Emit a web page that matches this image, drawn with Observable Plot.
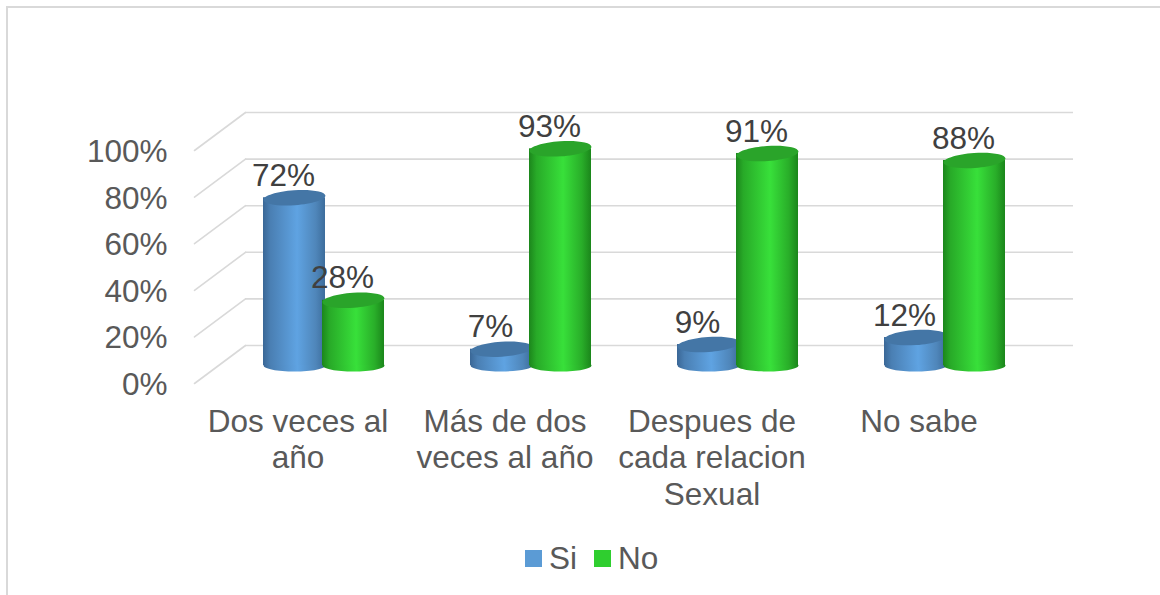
<!DOCTYPE html>
<html>
<head>
<meta charset="utf-8">
<script src="https://cdn.jsdelivr.net/npm/d3@7"></script>
<script src="https://cdn.jsdelivr.net/npm/@observablehq/plot@0.6"></script>
<style>
  html, body { margin: 0; padding: 0; background: #fff; overflow: hidden; }
  body { width: 1160px; height: 595px; position: relative; font-family: "Liberation Sans", Arial, sans-serif; }
  #border { position: absolute; left: 6px; top: 6px; right: 0; bottom: 0; border-left: 2px solid #d9d9d9; border-top: 2px solid #d9d9d9; pointer-events: none; }
  #chart svg { display: block; }
  #legend { position: relative; height: 60px; color: #595959; font-size: 31.5px; }
  #legend .sw { position: absolute; top: 15px; width: 17px; height: 17px; }
  #legend .lb { position: absolute; top: 6px; line-height: 34px; }
</style>
</head>
<body>
<div id="border"></div>
<div id="chart"></div>
<div id="legend"></div>
<script>
const categories = ["Dos veces al\naño", "Más de dos\nveces al año", "Despues de\ncada relacion\nSexual", "No sabe"];
const seriesNames = ["Si", "No"];
const si = [72, 7, 9, 12];
const no = [28, 93, 91, 88];
const yTicks = [0, 20, 40, 60, 80, 100];

const width = 1160, height = 535;
const rowsSi = categories.map((c, i) => ({cat: c, v: si[i]}));
const rowsNo = categories.map((c, i) => ({cat: c, v: no[i]}));

// flattened ellipses used for the cylinder caps
const ellipse = (rx, ry) => ({
  draw(ctx) {
    const k = 0.5523;
    ctx.moveTo(-rx, 0);
    ctx.bezierCurveTo(-rx, -ry * k, -rx * k, -ry, 0, -ry);
    ctx.bezierCurveTo(rx * k, -ry, rx, -ry * k, rx, 0);
    ctx.bezierCurveTo(rx, ry * k, rx * k, ry, 0, ry);
    ctx.bezierCurveTo(-rx * k, ry, -rx, ry * k, -rx, 0);
    ctx.closePath();
  }
});
const capTop = ellipse(31, 7.5);
const capBottom = ellipse(31, 6);
// grid line running from the front wall to the back wall
const wall = {
  draw(ctx, l) { ctx.moveTo(0, 0); ctx.lineTo(0, -l); },
  r: 0
};

function defs() {
  const d = d3.create("svg:defs");
  const grad = (id, stops) => {
    const g = d.append("linearGradient").attr("id", id).attr("x1", 0).attr("x2", 1).attr("y1", 0).attr("y2", 0);
    stops.forEach(([o, c]) => g.append("stop").attr("offset", o).attr("stop-color", c));
  };
  grad("gSi", [[0, "#3a6796"], [0.12, "#4a7fb3"], [0.55, "#5fa3e2"], [0.85, "#4f86ba"], [1, "#3d6d9c"]]);
  grad("gNo", [[0, "#1c861c"], [0.12, "#28aa28"], [0.55, "#38e03a"], [0.85, "#29ae29"], [1, "#1b861b"]]);
  return d.node();
}

function cylinder(rows, grad, top, dx) {
  const dy = -18;
  return [
    Plot.dot(rows, {x: "cat", y: () => 0, symbol: capBottom, fill: grad, dx, dy}),
    Plot.barY(rows, {x: "cat", y: "v", fill: grad, insetLeft: 72.5, insetRight: 72.5, dx, dy}),
    Plot.dot(rows, {x: "cat", y: "v", symbol: capTop, fill: top, rotate: -4, dx, dy})
  ];
}
function labels(rows, dx) {
  return Plot.text(rows, {
    x: "cat", y: "v", text: d => d.v + "%", dx: dx - 11, dy: -40,
    fontSize: 31.5, fill: "#404040", fontFamily: "Liberation Sans"
  });
}

const plot = Plot.plot({
  width, height,
  marginLeft: 194, marginRight: 138, marginTop: 150, marginBottom: height - 383,
  style: {background: "transparent", fontFamily: "Liberation Sans"},
  x: {domain: categories, padding: 0, round: false, label: null},
  y: {domain: [0, 100], label: null},
  marks: [
    defs,
    Plot.ruleY(yTicks, {stroke: "#d9d9d9", strokeWidth: 1.6, dx: 51, dy: -38}),
    Plot.vector(yTicks, {
      y: d => d, frameAnchor: "left", anchor: "start", length: 63.6, rotate: 53.3,
      shape: wall, stroke: "#d9d9d9", strokeWidth: 1.6
    }),
    Plot.axisY(yTicks, {
      anchor: "left", tickSize: 0, tickPadding: 27, label: null, tickFormat: d => d + "%",
      fontSize: 31.5, fill: "#595959", fontFamily: "Liberation Sans", dy: 1.5
    }),
    Plot.axisX({
      anchor: "bottom", tickSize: 0, tickPadding: 22.5, label: null, lineHeight: 1.16,
      fontSize: 31.5, fill: "#595959", fontFamily: "Liberation Sans"
    }),
    ...cylinder(rowsSi, "url(#gSi)", "#4476a6", -3.5),
    ...cylinder(rowsNo, "url(#gNo)", "#2aa42a", 55.5),
    labels(rowsSi, -3.5),
    labels(rowsNo, 55.5)
  ]
});
document.getElementById("chart").appendChild(plot);

const legendColors = ["#5b9bd5", "#2fce2f"];
const legendSw = [525, 594];
const legend = d3.select("#legend");
seriesNames.forEach((name, i) => {
  legend.append("span").attr("class", "sw").style("left", legendSw[i] + "px").style("background", legendColors[i]);
  legend.append("span").attr("class", "lb").style("left", (legendSw[i] + 24) + "px").text(name);
});
</script>
</body>
</html>
